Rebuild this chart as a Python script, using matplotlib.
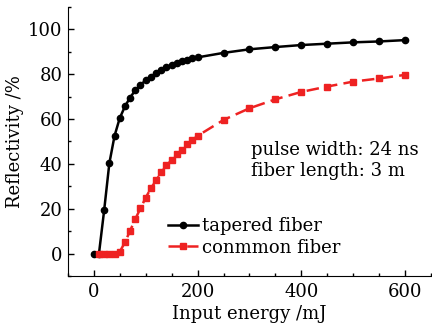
import matplotlib
matplotlib.use("Agg")
import matplotlib.pyplot as plt
from matplotlib.ticker import MultipleLocator

plt.rcParams['font.family'] = 'DejaVu Serif'

# Input energy (mJ) and reflectivity (%)
energy_tapered = [0, 10, 20, 30, 40, 50, 60, 70, 80, 90, 100, 110, 120, 130, 140,
                  150, 160, 170, 180, 190, 200, 250, 300, 350, 400, 450, 500, 550, 600]
refl_tapered = [0, 0, 19.3, 40.3, 52.5, 60.4, 65.6, 69.6, 72.8, 75.2, 77.3, 78.9,
                80.4, 81.7, 83.1, 84.1, 85.0, 85.7, 86.3, 87.1, 87.5, 89.5, 91.1,
                92.1, 93.0, 93.6, 94.2, 94.6, 95.2]

energy_common = [10, 20, 30, 40, 50, 60, 70, 80, 90, 100, 110, 120, 130, 140, 150,
                 160, 170, 180, 190, 200, 250, 300, 350, 400, 450, 500, 550, 600]
refl_common = [0, 0, 0, 0, 0.8, 5.0, 10.2, 15.4, 20.2, 24.9, 29.1, 32.6, 36.2, 39.3,
               41.7, 44.2, 46.4, 48.7, 50.6, 52.5, 59.6, 64.8, 68.8, 72.1, 74.5,
               76.7, 78.1, 79.7]

fig = plt.figure(figsize=(4.32, 3.29), dpi=100)
ax = fig.add_axes([0.157, 0.161, 0.841, 0.818])

ax.plot(energy_tapered, refl_tapered, '-o', color='black', lw=1.8, ms=4.5,
        label='tapered fiber')
ax.plot(energy_common, refl_common, '--s', color='#ee2222', lw=1.8, ms=4,
        dashes=(5, 2.5), label='conmmon fiber')

ax.set_xlim(-50, 650)
ax.set_ylim(-10, 110)
ax.xaxis.set_major_locator(MultipleLocator(200))
ax.xaxis.set_minor_locator(MultipleLocator(50))
ax.yaxis.set_major_locator(MultipleLocator(20))
ax.yaxis.set_minor_locator(MultipleLocator(10))
ax.tick_params(which='both', direction='in', labelsize=13, width=1)
ax.tick_params(which='major', length=4)
ax.tick_params(which='minor', length=2.5)
ax.tick_params(axis='x', pad=5)
ax.tick_params(axis='y', pad=4)
ax.spines['top'].set_visible(False)
ax.spines['right'].set_visible(False)

ax.set_xlabel('Input energy /mJ', fontsize=13, labelpad=3)
ax.set_ylabel('Reflectivity /%', fontsize=13, labelpad=3)

ax.text(0.504, 0.43, 'pulse width: 24 ns\nfiber length: 3 m', transform=ax.transAxes,
        fontsize=13, linespacing=1.2, va='center')

ax.legend(loc='center left', bbox_to_anchor=(0.275, 0.145), frameon=False, fontsize=13,
          handlelength=1.7, handletextpad=0.2, labelspacing=0.2, borderpad=0,
          borderaxespad=0)

fig.savefig('out.png', dpi=100)
